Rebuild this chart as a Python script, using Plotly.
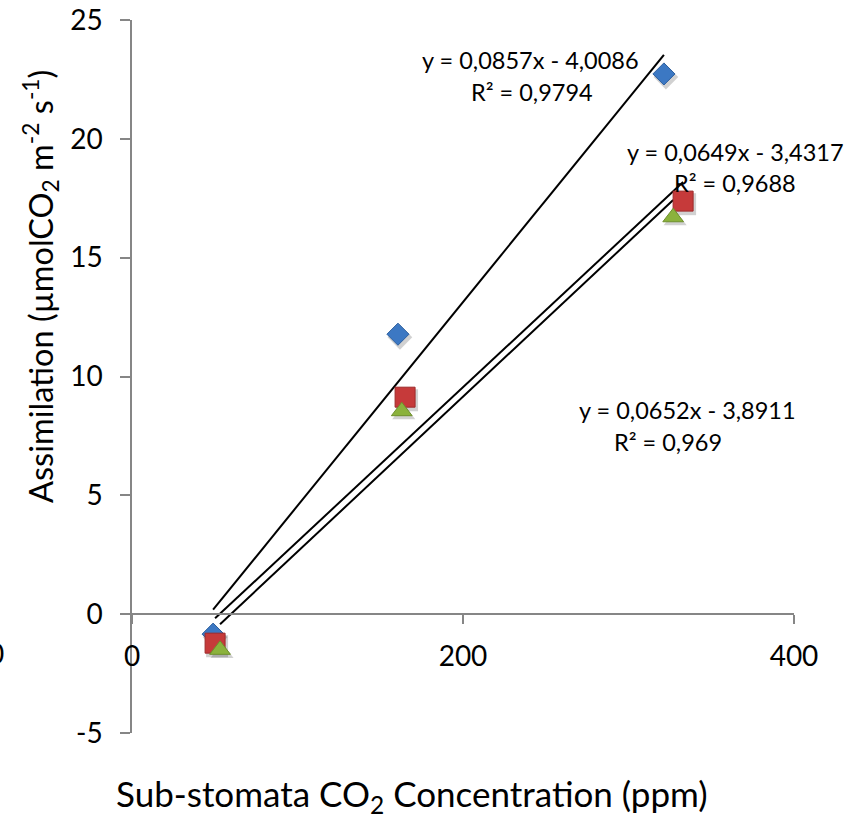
import numpy as np
import plotly.graph_objects as go

# ---- data ----
series_names = ["Series 1", "Series 2", "Series 3"]
x_blue = [49.0, 160.7, 321.4]
y_blue = [-0.84, 11.78, 22.73]
x_red = [50.2, 165.0, 333.0]
y_red = [-1.22, 9.13, 17.38]
x_green = [53.2, 163.0, 327.0]
y_green = [-1.50, 8.54, 16.70]

slopes = [0.0857, 0.0649, 0.0652]
intercepts = [-4.0086, -3.4317, -3.8911]
r2_values = ["0,9794", "0,9688", "0,969"]
eq_texts = ["y = 0,0857x - 4,0086", "y = 0,0649x - 3,4317", "y = 0,0652x - 3,8911"]

x_ticks = [0, 200, 400]
x_tick_text = ["0", "200", "400"]
y_ticks = [-5, 0, 5, 10, 15, 20, 25]
y_tick_text = ["-5", "0", "5", "10", "15", "20", "25"]

colors = ["#3C78C3", "#C63A3A", "#8BB23C"]
edge_colors = ["#2D5F9E", "#9E2B2B", "#6E8F2C"]
symbols = ["diamond", "square", "triangle-up"]
sizes = [17, 20, 18]

FONT = "Lato, Carlito, 'Open Sans', sans-serif"

fig = go.Figure()

xs = [x_blue, x_red, x_green]
ys = [y_blue, y_red, y_green]

# trendlines from displayed equations, spanning each series' x range
for i in range(3):
    xl = np.array([min(xs[i]), max(xs[i])])
    yl = slopes[i] * xl + intercepts[i]
    fig.add_trace(go.Scatter(x=xl, y=yl, mode="lines",
                             line=dict(color="black", width=2),
                             showlegend=False, hoverinfo="skip"))

# soft shadows under markers
for i in range(3):
    fig.add_trace(go.Scatter(x=[v + 1.2 for v in xs[i]], y=[v - 0.13 for v in ys[i]], mode="markers",
                             marker=dict(symbol=symbols[i], size=sizes[i] + 2,
                                         color="rgba(0,0,0,0.18)", line=dict(width=0)),
                             showlegend=False, hoverinfo="skip"))

for i in range(3):
    fig.add_trace(go.Scatter(x=xs[i], y=ys[i], mode="markers", name=series_names[i],
                             marker=dict(symbol=symbols[i], size=sizes[i], color=colors[i],
                                         line=dict(color=edge_colors[i], width=1)),
                             showlegend=False))

W, H = 858, 818
L, R, T, B = 132, 64, 20, 85
pw, ph = W - L - R, H - T - B

def px_x(px):
    return (px - L) / pw

def px_y(py):
    return (H - B - py) / ph

zero_pos = px_y(614)

fig.update_layout(
    width=W, height=H,
    margin=dict(l=L, r=R, t=T, b=B, autoexpand=False),
    paper_bgcolor="white", plot_bgcolor="white",
    font=dict(family=FONT, color="black"),
    xaxis=dict(range=[0, 400], tickvals=x_ticks, ticktext=x_tick_text,
               showgrid=False, zeroline=False, automargin=False,
               showline=True, linecolor="#868686", linewidth=1.5,
               ticks="outside", ticklen=9, tickwidth=1.5, tickcolor="#868686",
               anchor="free", position=zero_pos, ticklabelstandoff=9,
               tickfont=dict(size=28, family=FONT, color="black")),
    yaxis=dict(range=[-5, 25], tickvals=y_ticks, ticktext=y_tick_text,
               showgrid=False, zeroline=False, automargin=False,
               showline=True, linecolor="#868686", linewidth=1.5,
               ticks="outside", ticklen=10, tickwidth=1.5, tickcolor="#868686",
               ticklabelstandoff=12,
               tickfont=dict(size=28, family=FONT, color="black")),
)

ann = []
ann.append(dict(text="Assimilation (µmolCO<sub>2</sub> m<sup>-2</sup> s<sup>-1</sup>)",
                x=px_x(40), y=px_y(287), xref="paper", yref="paper", textangle=-90,
                showarrow=False, xanchor="center", yanchor="middle",
                font=dict(size=32.5, family=FONT, color="black")))
ann.append(dict(text="Sub-stomata CO<sub>2</sub> Concentration (ppm)",
                x=px_x(412), y=px_y(795), xref="paper", yref="paper",
                showarrow=False, xanchor="center", yanchor="middle",
                font=dict(size=35, family=FONT, color="black")))
eq_pos = [((530, 60), (532, 92)), ((735, 152), (735, 183)), ((687, 410), (668, 442))]
for i in range(3):
    (ex, ey), (rx, ry) = eq_pos[i]
    ann.append(dict(text=eq_texts[i], x=px_x(ex), y=px_y(ey), xref="paper", yref="paper",
                    showarrow=False, xanchor="center", yanchor="middle",
                    font=dict(size=23.5, family=FONT, color="black")))
    ann.append(dict(text="R² = " + r2_values[i], x=px_x(rx), y=px_y(ry), xref="paper", yref="paper",
                    showarrow=False, xanchor="center", yanchor="middle",
                    font=dict(size=23.5, family=FONT, color="black")))
# clipped stray label at the far left edge
ann.append(dict(text="0", x=px_x(-4), y=px_y(653), xref="paper", yref="paper",
                showarrow=False, xanchor="center", yanchor="middle",
                font=dict(size=28, family=FONT, color="black")))
fig.update_layout(annotations=ann)

fig.write_html("out.html")
